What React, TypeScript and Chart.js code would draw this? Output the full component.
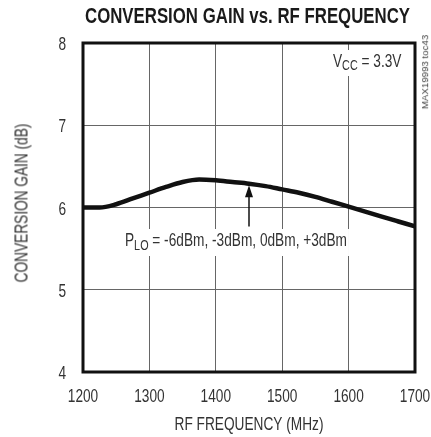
import React, { useEffect, useRef } from "react";
import { Chart, registerables } from "chart.js";

Chart.register(...registerables);

const frequencies = [1200, 1225, 1250, 1275, 1300, 1325, 1350, 1375, 1400, 1425, 1450, 1475, 1500, 1525, 1550, 1575, 1600, 1625, 1650, 1675, 1700];
const gain = [6.0, 6.0, 6.04, 6.11, 6.18, 6.25, 6.31, 6.34, 6.33, 6.31, 6.29, 6.26, 6.22, 6.18, 6.13, 6.07, 6.01, 5.95, 5.89, 5.83, 5.77];
const xTicks = [1200, 1300, 1400, 1500, 1600, 1700];
const yTicks = [4, 5, 6, 7, 8];

const TITLE = "CONVERSION GAIN vs. RF FREQUENCY";
const X_TITLE = "RF FREQUENCY (MHz)";
const Y_TITLE = "CONVERSION GAIN (dB)";
const SIDE_LABEL = "MAX19993 toc43";
const ARROW_FREQ = 1450;
const ARROW_TIP = 6.27;
const ARROW_BASE = 5.77;

const FONT = "'Liberation Sans', Arial, sans-serif";
const SX = 0.72;

type Run = { t: string; size: number; dy: number };

function runsWidth(ctx: CanvasRenderingContext2D, runs: Run[]) {
  let w = 0;
  for (const r of runs) {
    ctx.font = `${r.size}px ${FONT}`;
    w += ctx.measureText(r.t).width;
  }
  return w * SX;
}

function drawRuns(ctx: CanvasRenderingContext2D, runs: Run[], x: number, y: number) {
  ctx.save();
  ctx.setTransform(SX, 0, 0, 1, x, y);
  ctx.textAlign = "left";
  ctx.textBaseline = "alphabetic";
  let cx = 0;
  for (const r of runs) {
    ctx.font = `${r.size}px ${FONT}`;
    ctx.fillText(r.t, cx, r.dy);
    cx += ctx.measureText(r.t).width;
  }
  ctx.restore();
}

function drawText(ctx: CanvasRenderingContext2D, t: string, x: number, y: number, size: number, align: "left" | "center" | "right") {
  const runs = [{ t, size, dy: 0 }];
  const w = runsWidth(ctx, runs);
  const sx = align === "left" ? x : align === "center" ? x - w / 2 : x - w;
  drawRuns(ctx, runs, sx, y);
}

function bgBox(ctx: CanvasRenderingContext2D, x: number, y: number, w: number, h: number) {
  ctx.save();
  ctx.fillStyle = "#fff";
  ctx.fillRect(x, y, w, h);
  ctx.restore();
}

const annotations = {
  id: "annotations",
  afterDraw(chart: any) {
    const ctx = chart.ctx as CanvasRenderingContext2D;
    const x = chart.scales.x;
    const y = chart.scales.y;
    const area = chart.chartArea;
    ctx.save();
    // border
    ctx.strokeStyle = "#111";
    ctx.lineWidth = 3;
    ctx.strokeRect(area.left, area.top, area.right - area.left, area.bottom - area.top);

    // title
    ctx.fillStyle = "#1a1a1a";
    ctx.font = `bold 22px ${FONT}`;
    const tw = ctx.measureText(TITLE).width;
    ctx.save();
    ctx.setTransform(325 / tw, 0, 0, 1, 85, 23);
    ctx.textAlign = "left";
    ctx.textBaseline = "alphabetic";
    ctx.fillText(TITLE, 0, 0);
    ctx.restore();

    ctx.fillStyle = "#333";
    // tick labels
    for (const t of x.ticks) {
      drawText(ctx, String(t.value), x.getPixelForValue(t.value), 402, 19, "center");
    }
    for (const t of y.ticks) {
      drawText(ctx, String(t.value), 66, y.getPixelForValue(t.value) + 7, 19, "right");
    }

    // x title
    drawText(ctx, X_TITLE, (area.left + area.right) / 2, 430, 19, "center");

    // Vcc label
    const vccRuns = [
      { t: "V", size: 19, dy: 0 },
      { t: "CC", size: 15, dy: 3 },
      { t: " = 3.3V", size: 19, dy: 0 },
    ];
    bgBox(ctx, 331, 50, runsWidth(ctx, vccRuns) + 4, 26);
    ctx.fillStyle = "#333";
    drawRuns(ctx, vccRuns, 333, 67);

    // PLO label
    const ploRuns = [
      { t: "P", size: 19, dy: 0 },
      { t: "LO", size: 15, dy: 4 },
      { t: " = -6dBm, -3dBm, 0dBm, +3dBm", size: 19, dy: 0 },
    ];
    bgBox(ctx, 123, 229, runsWidth(ctx, ploRuns) + 4, 27);
    ctx.fillStyle = "#333";
    drawRuns(ctx, ploRuns, 125, 246);

    // arrow
    const ax = x.getPixelForValue(ARROW_FREQ);
    const ty = y.getPixelForValue(ARROW_TIP);
    const byy = y.getPixelForValue(ARROW_BASE);
    ctx.strokeStyle = "#111";
    ctx.lineWidth = 1.5;
    ctx.beginPath();
    ctx.moveTo(ax, byy);
    ctx.lineTo(ax, ty + 10);
    ctx.stroke();
    ctx.fillStyle = "#111";
    ctx.beginPath();
    ctx.moveTo(ax, ty);
    ctx.lineTo(ax - 4, ty + 12);
    ctx.lineTo(ax + 4, ty + 12);
    ctx.closePath();
    ctx.fill();
    ctx.restore();
  },
};

const rotatedBase: React.CSSProperties = {
  position: "absolute",
  whiteSpace: "nowrap",
  lineHeight: 1,
  fontFamily: FONT,
  color: "#333",
};

export default function App() {
  const ref = useRef<HTMLCanvasElement | null>(null);
  useEffect(() => {
    if (!ref.current) return;
    const chart = new Chart(ref.current, {
      type: "line",
      data: {
        datasets: [
          {
            data: frequencies.map((f, i) => ({ x: f, y: gain[i] })),
            borderColor: "#111",
            borderWidth: 4.5,
            pointRadius: 0,
            cubicInterpolationMode: "monotone",
            fill: false,
          },
        ],
      },
      options: {
        responsive: false,
        animation: false,
        events: [],
        layout: { padding: { top: 43, right: 16, left: 0, bottom: 0 } },
        plugins: { legend: { display: false }, tooltip: { enabled: false } },
        scales: {
          x: {
            type: "linear",
            min: 1200,
            max: 1700,
            afterBuildTicks: (s: any) => {
              s.ticks = xTicks.map((v) => ({ value: v }));
            },
            afterFit: (s: any) => {
              s.height = 65;
            },
            grid: { color: "#666", lineWidth: 1, drawTicks: false },
            border: { display: false },
            ticks: { display: false },
          },
          y: {
            min: 4,
            max: 8,
            afterBuildTicks: (s: any) => {
              s.ticks = yTicks.map((v) => ({ value: v }));
            },
            afterFit: (s: any) => {
              s.width = 83;
            },
            grid: { color: "#666", lineWidth: 1, drawTicks: false },
            border: { display: false },
            ticks: { display: false },
          },
        },
      },
      plugins: [annotations],
    });
    return () => chart.destroy();
  }, []);
  return (
    <div style={{ position: "absolute", left: 0, top: 0, width: 431, height: 437, background: "#fff", overflow: "hidden" }}>
      <canvas ref={ref} width={431} height={437} style={{ display: "block" }} />
      <div
        style={{
          ...rotatedBase,
          left: 21,
          top: 203,
          fontSize: 19,
          transform: "translate(-50%, -50%) rotate(-90deg) scaleX(0.72)",
        }}
      >
        {Y_TITLE}
      </div>
      <div
        style={{
          ...rotatedBase,
          left: 425,
          top: 72,
          fontSize: 9.7,
          color: "#444",
          transform: "translate(-50%, -50%) rotate(-90deg)",
        }}
      >
        {SIDE_LABEL}
      </div>
    </div>
  );
}
